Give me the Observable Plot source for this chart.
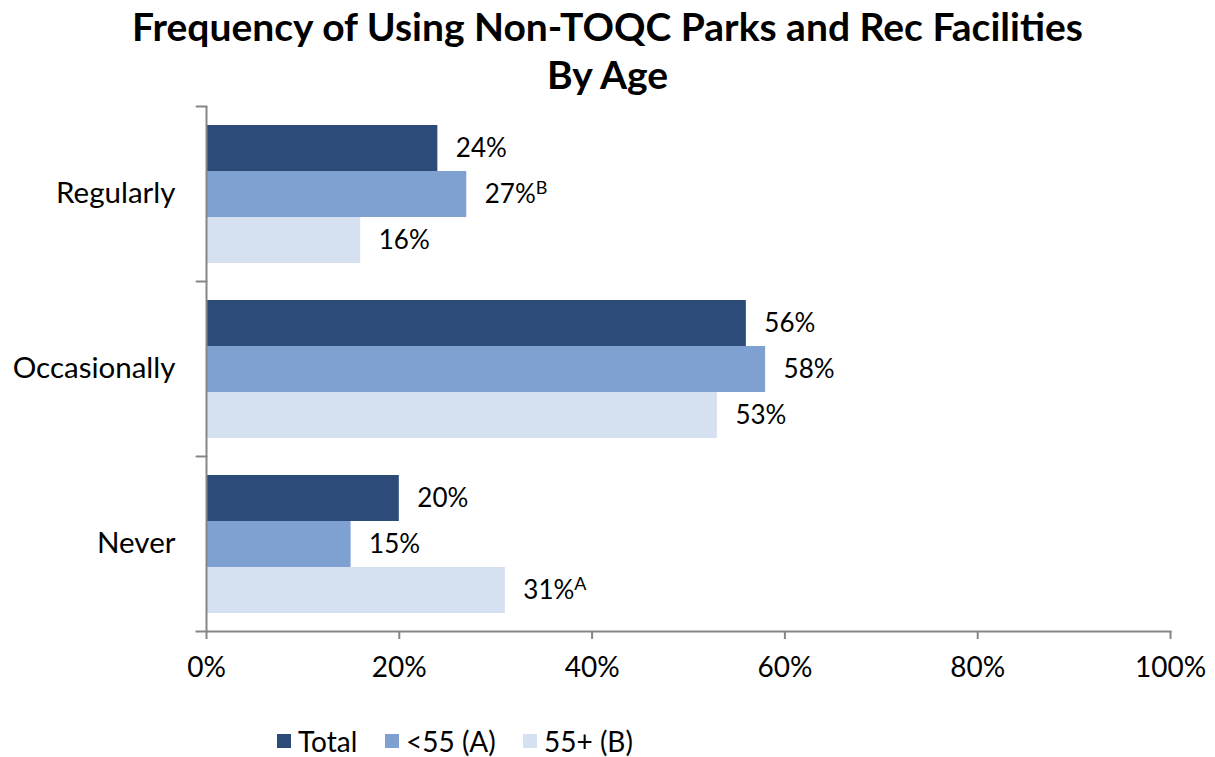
<!DOCTYPE html>
<html>
<head>
<meta charset="utf-8">
<script src="https://cdn.jsdelivr.net/npm/d3@7"></script>
<script src="https://cdn.jsdelivr.net/npm/@observablehq/plot@0.6"></script>
<style>
  html, body { margin: 0; padding: 0; background: #fff; }
  body { width: 1215px; height: 757px; position: relative; overflow: hidden; font-family: Lato, "Open Sans", sans-serif; }
  #title { position: absolute; left: 0; top: 2px; width: 1215px; text-align: center; font-weight: bold; font-size: 39px; line-height: 48px; color: #000; }
  #chart { position: absolute; left: 0; top: 100px; }
  #legend { position: absolute; left: 0; top: 727px; width: 1215px; height: 28px; font-size: 28px; line-height: 28px; color: #000; }
  #legend .item { position: absolute; top: 0; display: flex; align-items: center; height: 28px; }
  #legend .sw { width: 14px; height: 14px; margin-right: 7px; }
</style>
</head>
<body>
<div id="title">Frequency of Using Non-TOQC Parks and Rec Facilities<br>By Age</div>
<div id="chart"></div>
<div id="legend"></div>
<script>
const categories = ["Regularly", "Occasionally", "Never"];
const seriesNames = ["Total", "<55 (A)", "55+ (B)"];
const totalValues = [24, 56, 20];
const under55Values = [27, 58, 15];
const over55Values = [16, 53, 31];
const under55Sig = ["B", "", ""];
const over55Sig = ["", "", "A"];
const xTicks = [0, 20, 40, 60, 80, 100];
const seriesColors = ["#2D4B78", "#7EA1D1", "#D5E0F0"];
const axisGray = "#868686";
const legendLefts = [277, 385, 523];

const seriesValues = [totalValues, under55Values, over55Values];
const seriesSig = [["", "", ""], under55Sig, over55Sig];
const rows = [];
categories.forEach((c, i) => {
  seriesNames.forEach((s, j) => {
    rows.push({category: c, series: s, value: seriesValues[j][i], sig: seriesSig[j][i]});
  });
});

const lineShape = {
  draw(context, l) {
    context.moveTo(0, 0);
    context.lineTo(0, -l);
  }
};

const chart = Plot.plot({
  width: 1215,
  height: 600,
  marginTop: 5,
  marginBottom: 68,
  marginLeft: 206,
  marginRight: 45,
  style: {fontFamily: "Lato, 'Open Sans', sans-serif", fontSize: "26px", color: "#000", background: "transparent"},
  x: {domain: [0, 100], axis: null},
  y: {domain: seriesNames, axis: null, paddingInner: 0, paddingOuter: 0.39},
  fy: {domain: categories, axis: null, padding: 0},
  color: {domain: seriesNames, range: seriesColors},
  marks: [
    Plot.barX(rows, {x: "value", y: "series", fy: "category", fill: "series"}),
    Plot.text(rows, {x: "value", y: "series", fy: "category", text: d => d.value + "%", textAnchor: "start", dx: 18, fontSize: 26, fill: "#000"}),
    Plot.text(rows.filter(d => d.sig), {x: "value", y: "series", fy: "category", text: "sig", textAnchor: "start", dx: 69, dy: -6, fontSize: 18, fill: "#000"}),
    Plot.ruleX([0], {stroke: axisGray, strokeWidth: 2}),
    Plot.vector(categories, {fy: d => d, x: () => 0, frameAnchor: "top", length: 10, rotate: -90, anchor: "start", shape: lineShape, stroke: axisGray, strokeWidth: 2}),
    Plot.frame({anchor: "bottom", fy: () => "Never", stroke: axisGray, strokeWidth: 2, insetLeft: -10}),
    Plot.axisX({anchor: "bottom", ticks: xTicks, tickFormat: d => d + "%", tickSize: 8, tickPadding: 18, stroke: axisGray, strokeWidth: 2, fill: "#000", fontSize: 28, label: null}),
    Plot.axisFy({anchor: "left", tickSize: 0, tickPadding: 31, fill: "#000", fontSize: 29.5, label: null})
  ]
});
document.getElementById("chart").appendChild(chart);

const legend = document.getElementById("legend");
seriesNames.forEach((s, j) => {
  const item = document.createElement("div");
  item.className = "item";
  item.style.left = legendLefts[j] + "px";
  const sw = document.createElement("div");
  sw.className = "sw";
  sw.style.background = seriesColors[j];
  const label = document.createElement("span");
  label.textContent = s;
  item.appendChild(sw);
  item.appendChild(label);
  legend.appendChild(item);
});
</script>
</body>
</html>
